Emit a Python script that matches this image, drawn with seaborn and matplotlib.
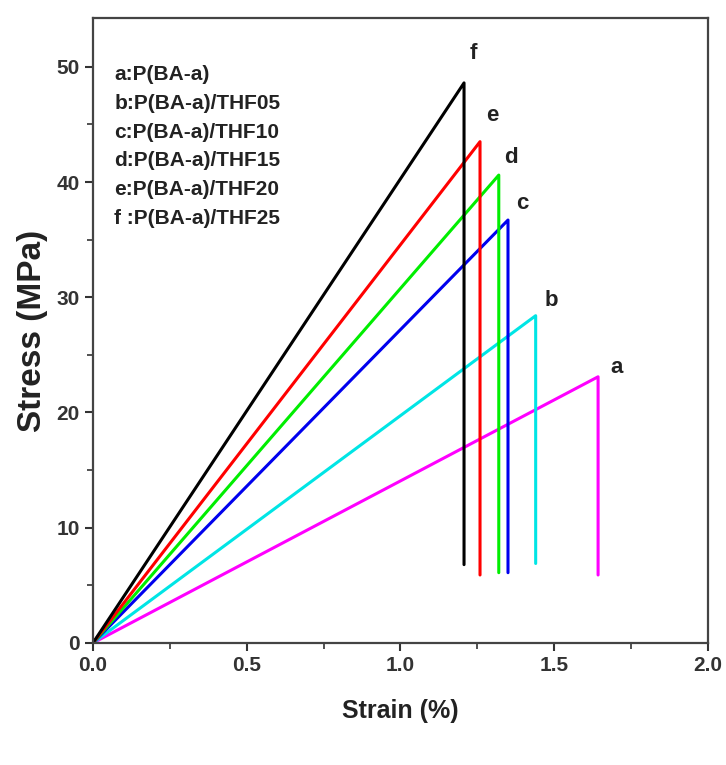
import numpy as np
import pandas as pd
import matplotlib
matplotlib.use("Agg")
import matplotlib.pyplot as plt
import seaborn as sns
from matplotlib.ticker import MultipleLocator

sns.set_theme(style="ticks")
plt.rcParams['font.family'] = ['Liberation Sans', 'DejaVu Sans']

# Data
labels = ["a", "b", "c", "d", "e", "f"]
names = ["a:P(BA-a)", "b:P(BA-a)/THF05", "c:P(BA-a)/THF10",
         "d:P(BA-a)/THF15", "e:P(BA-a)/THF20", "f :P(BA-a)/THF25"]
peak_strain = [1.643, 1.44, 1.35, 1.32, 1.259, 1.207]
peak_stress = [23.1, 28.4, 36.7, 40.6, 43.5, 48.6]
break_stress = [5.9, 6.9, 6.1, 6.1, 5.9, 6.8]
colors = ["#ff00ff", "#00e5e5", "#0000ee", "#00ee00", "#ff0000", "#000000"]
# label offsets from each peak (points)
label_dx = [13, 11, 10, 9, 9, 7]
label_dy = [7, 11, 12, 13, 19, 21]

rows = []
for lab, xs, ys, yb in zip(labels, peak_strain, peak_stress, break_stress):
    for i, (x, y) in enumerate([(0.0, 0.0), (xs, ys), (xs, yb)]):
        rows.append({"sample": lab, "order": i, "strain": x, "stress": y})
df = pd.DataFrame(rows)

fig = plt.figure(figsize=(7.26, 7.65), dpi=100)
ax = fig.add_axes([0.128, 0.1595, 0.847, 0.8165])

sns.lineplot(data=df, x="strain", y="stress", hue="sample", sort=False,
             palette=dict(zip(labels, colors)), linewidth=2.2, legend=False,
             estimator=None, units="sample", ax=ax)

for lab, xs, ys, dx, dy in zip(labels, peak_strain, peak_stress, label_dx, label_dy):
    ax.annotate(lab, (xs, ys), xytext=(dx, dy), textcoords="offset points",
                fontsize=16, fontweight="bold", ha="center", va="center",
                color="#222222")

ax.text(0.035, 0.925, "\n".join(names), transform=ax.transAxes,
        fontsize=15, fontweight="bold", va="top", ha="left",
        linespacing=1.65, color="#222222")

ax.set_xlim(0, 2.0)
ax.set_ylim(0, 54.2)
ax.xaxis.set_minor_locator(MultipleLocator(0.25))
ax.yaxis.set_major_locator(MultipleLocator(10))
ax.yaxis.set_minor_locator(MultipleLocator(5))
ax.set_xticks([0, 0.5, 1.0, 1.5, 2.0])
ax.set_xticklabels(["0.0", "0.5", "1.0", "1.5", "2.0"])
ax.tick_params(which="major", direction="out", length=6, width=1.5,
               labelsize=15, colors="#333333")
ax.tick_params(which="minor", direction="out", length=4, width=1.2, colors="#333333")
for t in ax.get_xticklabels() + ax.get_yticklabels():
    t.set_fontweight("bold")

for s in ax.spines.values():
    s.set_linewidth(1.6)
    s.set_color("#444444")

ax.set_xlabel("Strain (%)", fontsize=18, fontweight="bold", labelpad=17, color="#222222")
ax.set_ylabel("Stress (MPa)", fontsize=24, fontweight="bold", labelpad=6,
              color="#222222")

fig.savefig("out.png", dpi=100)
